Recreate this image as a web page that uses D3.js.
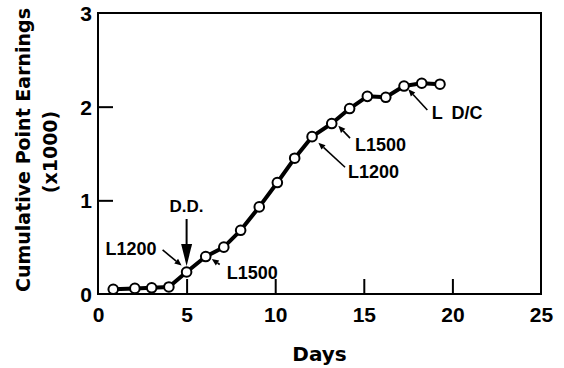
<!DOCTYPE html>
<html>
<head>
<meta charset="utf-8">
<script src="https://cdn.jsdelivr.net/npm/d3@7"></script>
<style>
  body { margin: 0; background: #fff; }
  svg { display: block; font-family: "Liberation Sans", Arial, sans-serif; }
</style>
</head>
<body>
<div id="chart"></div>
<script>
// values
const days = [0.86, 2.08, 3.03, 4.0, 5.0, 6.08, 7.1, 8.05, 9.1, 10.12, 11.1, 12.08, 13.19, 14.2, 15.2, 16.24, 17.27, 18.27, 19.3];
const earnings = [0.05, 0.06, 0.066, 0.075, 0.235, 0.40, 0.50, 0.68, 0.93, 1.19, 1.45, 1.68, 1.82, 1.98, 2.11, 2.10, 2.22, 2.25, 2.24];
const xTicks = [0, 5, 10, 15, 20, 25];
const yTicks = [0, 1, 2, 3];
// annotations: which point, arrow tip/tail and text offsets from that point
const notes = [
  { idx: 4, text: "L1200", tip: [-5, -6.5], tail: [-24, -22], txt: [-30, -16.5], anchor: "end" },
  { idx: 5, text: "L1500", tip: [6, 2.5], tail: [14, 8], txt: [21, 22.5], anchor: "start" },
  { idx: 11, text: "L1200", tip: [6.3, 6], tail: [33, 30.6], txt: [36, 41.5], anchor: "start" },
  { idx: 12, text: "L1500", tip: [6.6, 2.3], tail: [18.3, 14.6], txt: [23.3, 27.5], anchor: "start" },
  { idx: 16, text: "L D/C", tip: [4.3, 3.3], tail: [23.3, 24], txt: [27.7, 33], anchor: "start" }
];

const w = 564, h = 368;
const pLeft = 98, pRight = 541, pTop = 13, pBottom = 294;
const titleFont = "DejaVu Sans, Liberation Sans, Arial";

const svg = d3.select("#chart").append("svg")
  .attr("width", w).attr("height", h);

const x = d3.scaleLinear().domain([0, 25]).range([pLeft, pRight]);
const y = d3.scaleLinear().domain([0, 3]).range([pBottom, pTop]);

// frame
svg.append("rect")
  .attr("x", pLeft).attr("y", pTop)
  .attr("width", pRight - pLeft).attr("height", pBottom - pTop)
  .attr("fill", "none").attr("stroke", "#000").attr("stroke-width", 2);

// axes with inward ticks
const xAxis = d3.axisBottom(x).tickValues(xTicks).tickSize(-15).tickPadding(26).tickFormat(d3.format("d"));
const gx = svg.append("g").attr("transform", "translate(0," + pBottom + ")").call(xAxis);
const yAxis = d3.axisLeft(y).tickValues(yTicks).tickSize(-15).tickPadding(6).tickFormat(d3.format("d"));
const gy = svg.append("g").attr("transform", "translate(" + pLeft + ",0)").call(yAxis);

[gx, gy].forEach(g => {
  g.select(".domain").remove();
  g.selectAll(".tick line").attr("stroke", "#000").attr("stroke-width", 2);
  g.selectAll(".tick text").attr("fill", "#000").attr("font-size", 21)
    .attr("font-weight", "bold").attr("font-family", "Liberation Sans, Arial");
});
gx.selectAll(".tick text").attr("dy", "0.1em");
gx.selectAll(".tick").filter(d => d === 0 || d === 25).select("line").remove();
gy.selectAll(".tick").filter(d => d === 0 || d === 3).select("line").remove();
gy.selectAll(".tick text").attr("dy", "0.36em");

// axis titles
svg.append("text")
  .attr("x", (pLeft + pRight) / 2).attr("y", 361)
  .attr("text-anchor", "middle").attr("font-family", titleFont)
  .attr("font-size", 20).attr("font-weight", "bold")
  .text("Days");

svg.append("text")
  .attr("transform", "translate(30,150) rotate(-90)")
  .attr("text-anchor", "middle").attr("font-family", titleFont)
  .attr("font-size", 19).attr("font-weight", "bold")
  .text("Cumulative Point Earnings");
svg.append("text")
  .attr("transform", "translate(57,152) rotate(-90)")
  .attr("text-anchor", "middle").attr("font-family", titleFont)
  .attr("font-size", 19).attr("font-weight", "bold")
  .text("(x1000)");

// series
const pts = days.map((d, i) => [d, earnings[i]]);
const line = d3.line().x(d => x(d[0])).y(d => y(d[1]));
svg.append("path")
  .datum(pts)
  .attr("d", line)
  .attr("fill", "none").attr("stroke", "#000").attr("stroke-width", 4)
  .attr("stroke-linejoin", "round");

svg.selectAll("circle.pt")
  .data(pts)
  .enter().append("circle")
  .attr("class", "pt")
  .attr("cx", d => x(d[0])).attr("cy", d => y(d[1]))
  .attr("r", 4.8)
  .attr("fill", "#fff").attr("stroke", "#000").attr("stroke-width", 2);

// arrow helper
function arrow(x1, y1, x2, y2, headLen, headW, sw) {
  const a = Math.atan2(y2 - y1, x2 - x1);
  const bx = x2 - headLen * Math.cos(a), by = y2 - headLen * Math.sin(a);
  svg.append("line")
    .attr("x1", x1).attr("y1", y1).attr("x2", bx).attr("y2", by)
    .attr("stroke", "#000").attr("stroke-width", sw);
  const px = -Math.sin(a) * headW / 2, py = Math.cos(a) * headW / 2;
  svg.append("path")
    .attr("d", "M" + x2 + "," + y2 + "L" + (bx + px) + "," + (by + py) + "L" + (bx - px) + "," + (by - py) + "Z")
    .attr("fill", "#000");
}

// D.D. marker above day 5
const dd = pts[4];
const ddx = x(dd[0]), ddy = y(dd[1]);
svg.append("text")
  .attr("x", ddx).attr("y", ddy - 60)
  .attr("text-anchor", "middle")
  .attr("font-size", 17).attr("font-weight", "bold")
  .text("D.D.");
arrow(ddx, ddy - 53, ddx, ddy - 6, 22, 11, 2);

notes.forEach(n => {
  const px = x(pts[n.idx][0]), py = y(pts[n.idx][1]);
  arrow(px + n.tail[0], py + n.tail[1], px + n.tip[0], py + n.tip[1], 7, 6, 1.6);
  svg.append("text")
    .attr("x", px + n.txt[0]).attr("y", py + n.txt[1])
    .attr("text-anchor", n.anchor)
    .attr("font-size", 18).attr("font-weight", "bold")
    .attr("word-spacing", 4)
    .text(n.text);
});
</script>
</body>
</html>
